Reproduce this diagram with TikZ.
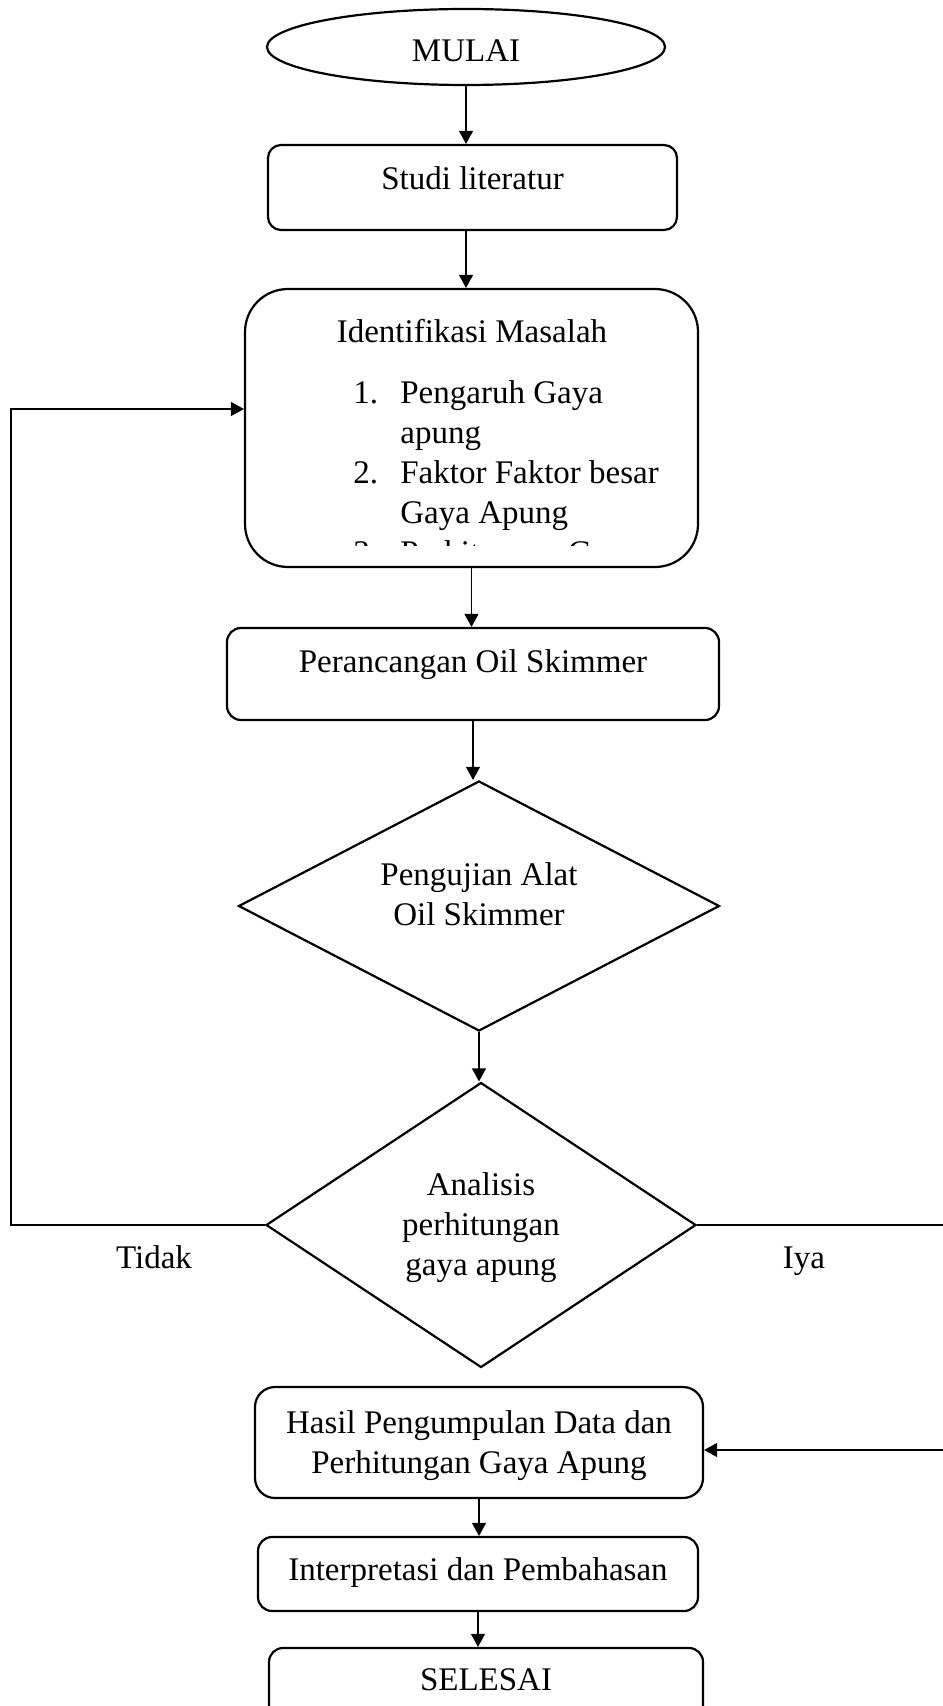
\documentclass[tikz,border=0pt]{standalone}
\usepackage{fontspec}
\setmainfont{Liberation Serif}
\usetikzlibrary{shapes.geometric, arrows.meta}
\tikzset{>={Triangle[length=6.5pt,width=7pt]}}

\begin{document}
\begin{tikzpicture}[x=0.5pt, y=-0.5pt,
    font=\fontsize{16.5}{20}\selectfont,
    kotak/.style={draw, rectangle, rounded corners=7pt, line width=1.1pt, inner sep=0pt, text height=11pt},
    terminal/.style={draw, ellipse, line width=1.1pt, inner sep=0pt},
    keputusan/.style={draw, diamond, line width=1.1pt, inner sep=0pt, text height=11pt},
    panah/.style={->, line width=0.6pt}]
    \useasboundingbox (0,0) rectangle (942,1706);
    % alur utama
    \node[terminal, minimum width=199pt, minimum height=38pt, text height=19pt, text depth=4pt] (mulai) at (466,47) {MULAI};
    \node[kotak, rounded corners=6.5pt, minimum width=204.5pt, minimum height=42.5pt, text depth=8.5pt] (studi) at (472.5,187.5) {Studi literatur};
    \node[kotak, rounded corners=21.5pt, minimum width=226.5pt, minimum height=139pt] (ident) at (471.5,428) {};
    \begin{scope}
        \clip (250,295) rectangle (693,545);
        \node[anchor=base] (judul) at (472,343) {Identifikasi Masalah};
        \node[anchor=base west, inner sep=0pt] (daftar) at (353,403) {\begin{tabular}[t]{@{}p{23.5pt}@{}l@{}}
            1. & Pengaruh Gaya\\
               & apung\\
            2. & Faktor Faktor besar\\
               & Gaya Apung\\
            3. & Perhitungan Gaya
        \end{tabular}};
    \end{scope}
    \node[kotak, minimum width=246pt, minimum height=46pt, text depth=13pt] (rancang) at (473,674) {Perancangan Oil Skimmer};
    \node[keputusan, aspect=1.92, minimum width=240.5pt, minimum height=125pt, text depth=32pt] (uji) at (479,906) {\begin{tabular}[t]{@{}c@{}}Pengujian Alat\\Oil Skimmer\end{tabular}};
    \node[keputusan, aspect=1.51, minimum width=215pt, minimum height=142.5pt, text depth=41pt] (analisis) at (481,1225) {\begin{tabular}[t]{@{}c@{}}Analisis\\perhitungan\\gaya apung\end{tabular}};
    \node[kotak, rounded corners=10pt, minimum width=224pt, minimum height=55.5pt, text depth=20.5pt] (hasil) at (479,1442.5) {\begin{tabular}[t]{@{}c@{}}Hasil Pengumpulan Data dan\\Perhitungan Gaya Apung\end{tabular}};
    \node[kotak, minimum width=220pt, minimum height=37pt, text depth=5pt] (interp) at (478,1574) {Interpretasi dan Pembahasan};
    \node[kotak, minimum width=217pt, minimum height=38pt, text depth=7pt] (selesai) at (486,1686) {SELESAI};
    \node[anchor=base] (tidak) at (154,1268) {Tidak};
    \node[anchor=base] (iya) at (804,1268) {Iya};
    \coordinate (kiri) at (11,1225);
    \coordinate (kanan) at (946,1225);
    % panah
    \draw[panah] (mulai.south) -- (mulai.south |- studi.north);
    \draw[panah] (studi.south -| mulai.south) -- (mulai.south |- ident.north);
    \draw[panah] (ident.south) -- (ident.south |- rancang.north);
    \draw[panah] (rancang.south) -- (rancang.south |- uji.north);
    \draw[panah] (uji.south) -- (uji.south |- analisis.north);
    \draw[panah] (analisis.west) -- (kiri) |- ([yshift=9.5pt]ident.west);
    \draw[panah] (analisis.east) -- (kanan) |- ([yshift=-3.75pt]hasil.east);
    \draw[panah] (hasil.south) -- (hasil.south |- interp.north);
    \draw[panah] (interp.south) -- (interp.south |- selesai.north);
\end{tikzpicture}
\end{document}
